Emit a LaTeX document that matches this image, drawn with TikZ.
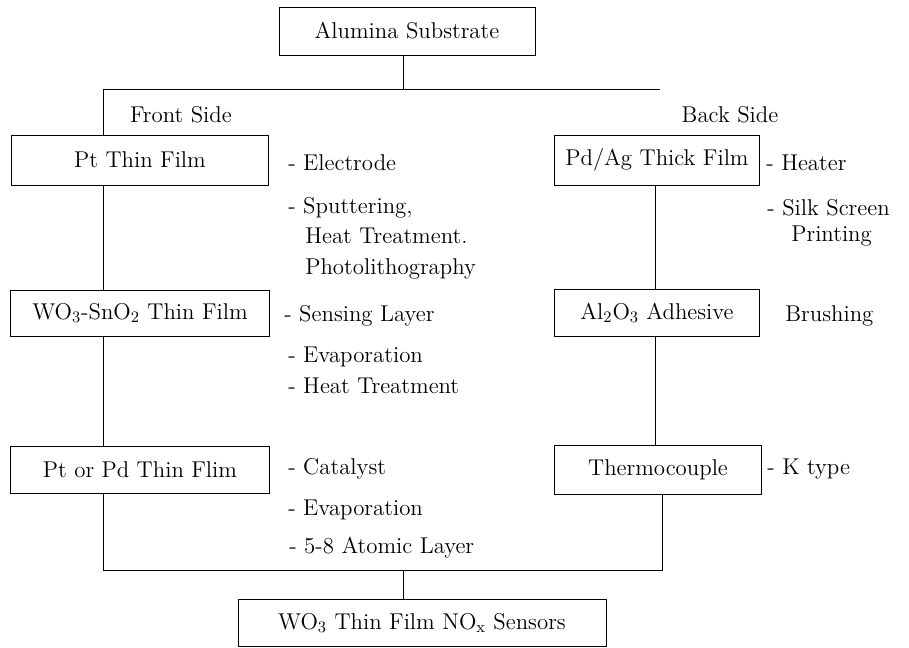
\documentclass[tikz,border=0pt]{standalone}
\usepackage{tikz}
\usetikzlibrary{positioning}
\tikzset{
x=0.02cm, y=-0.02cm, % one unit is one pixel of the scan
line width=0.7pt,
stepbox/.style={draw, inner sep=0pt, font=\fontsize{13}{15}\selectfont}, % sets the properties for each process box
note/.style={anchor=west, inner sep=0pt, font=\fontsize{13}{15}\selectfont}, % text beside the boxes
side/.style={inner sep=0pt, font=\fontsize{13}{15}\selectfont},
}

\begin{document}
\begin{tikzpicture}
\def\fx{103}
\def\bx{655}
\useasboundingbox (0,0) rectangle (909,648);

% boxes
\node[stepbox, minimum width=256*0.02cm, minimum height=48*0.02cm] (sub) at (407,31) {Alumina Substrate};
\node[stepbox, minimum width=257*0.02cm, minimum height=50*0.02cm] (pt) at (140,160) {Pt Thin Film};
\node[stepbox, minimum width=259*0.02cm, minimum height=46*0.02cm] (wo) at (140,313) {WO\textsubscript{3}-SnO\textsubscript{2} Thin Film};
\node[stepbox, minimum width=259*0.02cm, minimum height=47*0.02cm] (ptpd) at (140,470) {Pt or Pd Thin Flim};
\node[stepbox, minimum width=205*0.02cm, minimum height=50*0.02cm] (pdag) at (657,160) {Pd/Ag Thick Film};
\node[stepbox, minimum width=205*0.02cm, minimum height=47*0.02cm] (al) at (657,313) {Al\textsubscript{2}O\textsubscript{3} Adhesive};
\node[stepbox, minimum width=207*0.02cm, minimum height=49*0.02cm] (thermo) at (658,470) {Thermocouple};
\node[stepbox, minimum width=368*0.02cm, minimum height=47*0.02cm] (sens) at (422,623) {WO\textsubscript{3} Thin Film NO\textsubscript{x} Sensors};

% side labels
\node[side] (front) at (181,115) {Front Side};
\node[side] (back) at (730,115) {Back Side};

% notes
\node[note] (n1) at (288,163) {- Electrode};
\node[note] (n2) at (288,208) {- Sputtering,};
\node[note] (n3) at (305,236) {Heat Treatment.};
\node[note] (n4) at (305,269) {Photolithography};
\node[note] (n5) at (284,316) {- Sensing Layer};
\node[note] (n6) at (288,357) {- Evaporation};
\node[note] (n7) at (288,386) {- Heat Treatment};
\node[note] (n8) at (288,469) {- Catalyst};
\node[note] (n9) at (288,510) {- Evaporation};
\node[note] (n10) at (289,548) {- 5-8 Atomic Layer};
\node[note] (h1) at (766,163) {- Heater};
\node[note] (h2) at (767,208) {- Silk Screen};
\node[note] (h3) at (791,236) {Printing};
\node[note] (h4) at (785,316) {Brushing};
\node[note] (h5) at (767,469) {- K type};

% edges
\coordinate (split) at (403,89);
\coordinate (fl) at (\fx,89);
\coordinate (fr) at (660,89);
\coordinate (join) at (403,570);
\coordinate (tj) at (662,570);
\draw (split |- sub.south) -- (split); % substrate to both sides
\draw (fr) -- (fl) -- (fl |- pt.north); % front side
\draw (fl |- pt.south) -- (fl |- wo.north); % Pt to WO3
\draw (fl |- wo.south) -- (fl |- ptpd.north); % WO3 to catalyst
\draw (\bx,0 |- pdag.south) -- (\bx,0 |- al.north); % Pd/Ag to adhesive
\draw (\bx,0 |- al.south) -- (\bx,0 |- thermo.north); % adhesive to thermocouple
\draw (fl |- ptpd.south) -- (fl |- join) -- (tj) -- (tj |- thermo.south); % both sides joined
\draw (join) -- (join |- sens.north); % to sensor
\end{tikzpicture}
\end{document}
